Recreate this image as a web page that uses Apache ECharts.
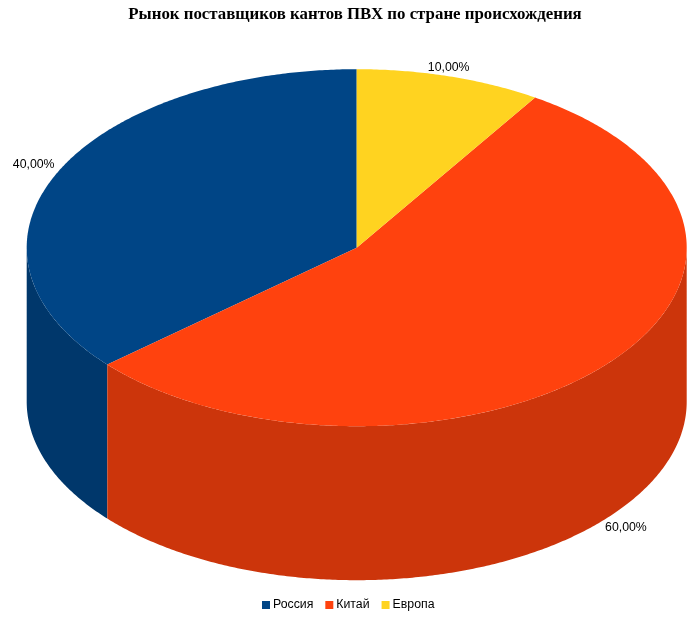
<!DOCTYPE html>
<html><head><meta charset="utf-8">
<style>html,body{margin:0;padding:0;background:#fff}#c{width:700px;height:617px}</style>
<script src="https://cdn.jsdelivr.net/npm/echarts@6/dist/echarts.min.js"></script>
</head><body><div id="c"></div>
<script>
const titleText = 'Рынок поставщиков кантов ПВХ по стране происхождения';
const categories = ['Россия', 'Китай', 'Европа'];
const values = [40, 60, 10];
const topColors = ['#004586', '#ff420e', '#ffd320'];
const sideColors = ['#00376b', '#cc350b', '#cca91a'];

const pie3d = { cx: 356.7, cy: 247.7, rx: 330, ry: 178.5, depth: 154 };
const labelFont = '12.3px "Liberation Sans", Arial, sans-serif';
const total = values.reduce((a, b) => a + b, 0);
// Slices run counter-clockwise from 12 o'clock, as in the reference.
const sweep = v => v / total * 360;
const starts = values.map((v, i) => values.slice(0, i).reduce((a, b) => a + sweep(b), 0));
const pt = (deg, dy) => {
  const r = deg * Math.PI / 180;
  return [pie3d.cx - pie3d.rx * Math.sin(r), pie3d.cy - pie3d.ry * Math.cos(r) + (dy || 0)];
};
const arc = (a, b, dy) => {
  const n = Math.max(2, Math.ceil((b - a) * 2)), out = [];
  for (let i = 0; i <= n; i++) out.push(pt(a + (b - a) * i / n, dy));
  return out;
};
const fmt = v => v.toFixed(2).replace('.', ',') + '%';

function renderSlice(i) {
  return function (params, api) {
    const v = api.value(0), a = starts[i], b = a + sweep(v), mid = (a + b) / 2;
    const kids = [];
    // visible front wall: the part of the arc on the lower half
    const fa = Math.max(a, 90), fb = Math.min(b, 270);
    if (fb > fa) {
      kids.push({ type: 'polygon',
        shape: { points: arc(fa, fb, 0).concat(arc(fa, fb, pie3d.depth).reverse()) },
        style: { fill: sideColors[i] } });
    }
    kids.push({ type: 'polygon',
      shape: { points: [[pie3d.cx, pie3d.cy]].concat(arc(a, b, 0)) },
      style: { fill: topColors[i] } });
    const front = mid > 90 && mid < 270;
    const p = pt(mid, front ? pie3d.depth : 0);
    const left = mid < 180;
    const onTop = mid >= 180 && !front;
    kids.push({ type: 'text',
      style: { text: fmt(v),
        x: onTop ? p[0] - 1 : (left ? p[0] - 2 : p[0] - 1),
        y: p[1] + (front ? 3 : -3),
        align: onTop ? 'center' : (left ? 'right' : 'left'),
        verticalAlign: front ? 'top' : 'bottom',
        font: labelFont, fill: '#000' } });
    return { type: 'group', children: kids };
  };
}

const chart = echarts.init(document.getElementById('c'), null, { renderer: 'canvas' });
chart.setOption({
  animation: false,
  backgroundColor: '#fff',
  title: { text: titleText, left: 350, top: 1.5, textAlign: 'center',
    textStyle: { fontFamily: '"Liberation Serif", serif', fontWeight: 'bold', fontSize: 16.85, color: '#000' } },
  legend: { data: categories, left: 257, top: 594, itemWidth: 8, itemHeight: 8, itemGap: 12,
    icon: 'rect', selectedMode: false,
    textStyle: { fontFamily: '"Liberation Sans", Arial, sans-serif', fontSize: 12.3, color: '#000',
      padding: [0, 0, 0, -2] } },
  series: categories.map((name, i) => ({
    type: 'custom', name, coordinateSystem: 'none', silent: true, clip: false,
    itemStyle: { color: topColors[i] },
    renderItem: renderSlice(i),
    data: [[values[i]]]
  }))
});
</script></body></html>
